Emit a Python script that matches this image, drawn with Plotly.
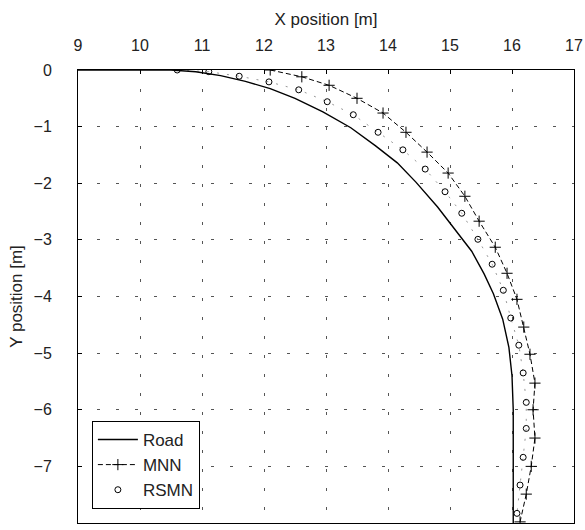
import plotly.graph_objects as go

# Road centre line
road_x = [9.0, 10.5, 10.9, 11.3, 11.7, 12.1, 12.5, 12.95, 13.4, 13.8, 14.15, 14.45, 14.8,
          15.1, 15.35, 15.55, 15.7, 15.85, 15.95, 16.0, 16.02, 16.02]
road_y = [0.0, 0.0, -0.03, -0.1, -0.2, -0.33, -0.5, -0.74, -1.02, -1.34, -1.64, -1.98, -2.42,
          -2.84, -3.2, -3.6, -3.95, -4.4, -4.9, -5.4, -6.0, -8.0]

# MNN trajectory
mnn_x = [12.1, 12.61, 13.05, 13.5, 13.92, 14.29, 14.63, 14.97, 15.24, 15.47, 15.73, 15.92,
         16.08, 16.19, 16.29, 16.37, 16.34, 16.37, 16.31, 16.23, 16.13]
mnn_y = [0.0, -0.12, -0.27, -0.5, -0.76, -1.1, -1.45, -1.82, -2.23, -2.67, -3.13, -3.59,
         -4.05, -4.54, -5.02, -5.53, -6.0, -6.5, -7.0, -7.49, -7.98]

# RSMN trajectory
rsmn_x = [10.6, 11.11, 11.6, 12.08, 12.56, 13.02, 13.44, 13.84, 14.24, 14.6, 14.92, 15.19,
          15.45, 15.68, 15.86, 15.98, 16.11, 16.18, 16.23, 16.23, 16.18, 16.13, 16.08]
rsmn_y = [0.0, -0.03, -0.11, -0.21, -0.35, -0.56, -0.79, -1.1, -1.41, -1.75, -2.15, -2.53,
          -2.99, -3.43, -3.89, -4.38, -4.86, -5.35, -5.87, -6.33, -6.84, -7.33, -7.83]

x_ticks = [9, 10, 11, 12, 13, 14, 15, 16, 17]
y_ticks = [0, -1, -2, -3, -4, -5, -6, -7, -8]

font_family = "Liberation Sans, Arial, sans-serif"

fig = go.Figure()
fig.add_trace(go.Scatter(x=rsmn_x, y=rsmn_y, mode="lines", showlegend=False, legendgroup="d",
                         line=dict(color="#999", width=1, dash="2px,8px"), hoverinfo="skip"))
fig.add_trace(go.Scatter(x=road_x, y=road_y, mode="lines", name="Road", legendgroup="a",
                         line=dict(color="black", width=1.4)))
fig.add_trace(go.Scatter(x=mnn_x, y=mnn_y, mode="lines+markers", name="MNN", legendgroup="b",
                         line=dict(color="black", width=1, dash="5px,3px"),
                         marker=dict(symbol="cross-thin", size=8, color="black",
                                     line=dict(color="black", width=1))))
fig.add_trace(go.Scatter(x=rsmn_x, y=rsmn_y, mode="markers", name="RSMN", legendgroup="c",
                         marker=dict(symbol="circle-open", size=6, color="black",
                                     line=dict(color="black", width=1))))

axis_common = dict(showline=True, mirror=True, linecolor="black", linewidth=1,
                   showgrid=True, gridcolor="#555", gridwidth=1, griddash="3px,16px",
                   zeroline=False, ticks="inside", ticklen=4, tickcolor="black",
                   automargin=False,
                   tickfont=dict(family=font_family, size=16, color="#222"))

fig.update_layout(
    width=585, height=530,
    margin=dict(l=78, r=11, t=70, b=7),
    paper_bgcolor="white", plot_bgcolor="white",
    font=dict(family=font_family, color="#222"),
    xaxis=dict(range=[9, 17], side="top", tickvals=x_ticks,
               title=dict(text="X position [m]", font=dict(size=17), standoff=6),
               ticklabelstandoff=12, **axis_common),
    yaxis=dict(range=[-8, 0], tickvals=y_ticks,
               title=dict(text="Y position [m]", font=dict(size=17), standoff=6),
               ticklabelstandoff=22, **axis_common),
    legend=dict(x=0.028, y=0.031, xanchor="left", yanchor="bottom",
                bgcolor="white", bordercolor="black", borderwidth=1,
                font=dict(family=font_family, size=17, color="#222"),
                tracegroupgap=0, itemwidth=40),
    showlegend=True,
)

fig.write_html("out.html", config={"displayModeBar": False},
               post_script="document.body.style.margin='0';")
